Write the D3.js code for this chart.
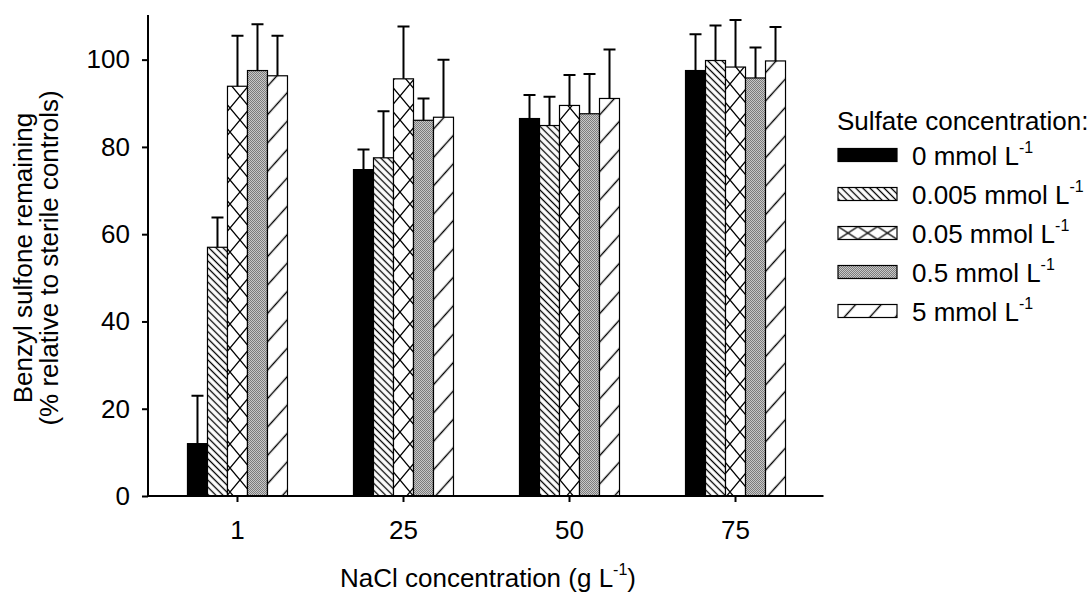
<!DOCTYPE html>
<html>
<head>
<meta charset="utf-8">
<script src="https://cdn.jsdelivr.net/npm/d3@7"></script>
<style>
  html, body { margin: 0; padding: 0; background: #fff; }
  svg { display: block; }
  text { font-family: "Liberation Sans", Arial, sans-serif; fill: #000; }
</style>
</head>
<body>
<svg id="chart" width="1091" height="600"></svg>
<script>
// NaCl concentrations (g L-1) on the x axis
const naclLevels = ["1", "25", "50", "75"];

// Sulfate treatments (legend order)
const sulfateLevels = ["0", "0.005", "0.05", "0.5", "5"];
const sulfateLabels = ["0 mmol L", "0.005 mmol L", "0.05 mmol L", "0.5 mmol L", "5 mmol L"];

// Benzyl sulfone remaining (% of sterile controls), one array per sulfate level
const mean0    = [12.0, 74.8, 86.5, 97.5];
const mean0005 = [57.0, 77.5, 84.9, 99.8];
const mean005  = [93.9, 95.6, 89.5, 98.3];
const mean05   = [97.5, 86.1, 87.6, 95.8];
const mean5    = [96.3, 86.8, 91.1, 99.7];

// Standard deviations (upper error bars)
const sd0    = [11.0, 4.6, 5.4, 8.3];
const sd0005 = [6.8, 10.7, 6.6, 8.0];
const sd005  = [11.6, 12.0, 7.0, 10.8];
const sd05   = [10.6, 5.0, 9.1, 7.0];
const sd5    = [9.2, 13.2, 11.2, 7.8];

const yTicks = [0, 20, 40, 60, 80, 100];

const means = [mean0, mean0005, mean005, mean05, mean5];
const sds = [sd0, sd0005, sd005, sd05, sd5];
const fills = ["#000", "url(#diagBack)", "url(#xhatch)", "url(#stipple)", "url(#diagFwd)"];
const legendFills = ["#000", "url(#diagBack)", "url(#xhatchLeg)", "url(#stipple)", "url(#diagFwd)"];

const rows = [];
naclLevels.forEach((n, i) => {
  sulfateLevels.forEach((s, j) => {
    rows.push({ nacl: n, sulfate: s, si: j, value: means[j][i], sd: sds[j][i] });
  });
});

const FONT = 26;
const SUP = 16;

const svg = d3.select("#chart");

// ---- fill patterns ----
const defs = svg.append("defs");

// back diagonal hatching
const pb = defs.append("pattern").attr("id", "diagBack")
  .attr("patternUnits", "userSpaceOnUse").attr("width", 5).attr("height", 5)
  .attr("patternTransform", "rotate(-45)");
pb.append("rect").attr("width", 5).attr("height", 5).attr("fill", "#fff");
pb.append("line").attr("x1", 2.5).attr("y1", 0).attr("x2", 2.5).attr("y2", 5)
  .attr("stroke", "#000").attr("stroke-width", 1.3);

// wide forward diagonal hatching
const pf = defs.append("pattern").attr("id", "diagFwd")
  .attr("patternUnits", "userSpaceOnUse").attr("width", 19).attr("height", 19)
  .attr("patternTransform", "rotate(42)");
pf.append("rect").attr("width", 19).attr("height", 19).attr("fill", "#fff");
pf.append("line").attr("x1", 9.5).attr("y1", 0).attr("x2", 9.5).attr("y2", 19)
  .attr("stroke", "#000").attr("stroke-width", 1.4);

// crosshatch for bars
const px = defs.append("pattern").attr("id", "xhatch")
  .attr("patternUnits", "userSpaceOnUse").attr("width", 20).attr("height", 24);
px.append("rect").attr("width", 20).attr("height", 24).attr("fill", "#fff");
px.append("path").attr("d", "M0,0L20,24M20,0L0,24")
  .attr("stroke", "#000").attr("stroke-width", 1.3).attr("fill", "none");

// crosshatch for legend swatches
const pxl = defs.append("pattern").attr("id", "xhatchLeg")
  .attr("patternUnits", "objectBoundingBox").attr("width", 1 / 3).attr("height", 1);
pxl.append("rect").attr("width", 20).attr("height", 13).attr("fill", "#fff");
pxl.append("path").attr("d", "M0,0L20,13M20,0L0,13")
  .attr("stroke", "#000").attr("stroke-width", 1.3).attr("fill", "none");

// fine grey stipple
const ps = defs.append("pattern").attr("id", "stipple")
  .attr("patternUnits", "userSpaceOnUse").attr("width", 2).attr("height", 2);
ps.append("rect").attr("width", 2).attr("height", 2).attr("fill", "#c8c8c8");
ps.append("rect").attr("width", 1).attr("height", 1).attr("fill", "#7c7c7c");
ps.append("rect").attr("x", 1).attr("y", 1).attr("width", 1).attr("height", 1).attr("fill", "#7c7c7c");

// ---- scales ----
const x0 = d3.scaleBand().domain(naclLevels).range([149.5, 823.5]).paddingInner(0).paddingOuter(0.03);
const x1 = d3.scaleBand().domain(sulfateLevels).range([0, 100]).padding(0);
const y = d3.scaleLinear().domain([0, 110]).range([496, 16]);

// ---- bars ----
const groupOffset = x0.bandwidth() / 2 - 50;
const bars = svg.append("g");
bars.selectAll("rect").data(rows).join("rect")
  .attr("x", d => x0(d.nacl) + groupOffset + x1(d.sulfate))
  .attr("y", d => y(d.value))
  .attr("width", x1.bandwidth())
  .attr("height", d => y(0) - y(d.value))
  .attr("fill", d => fills[d.si])
  .attr("stroke", "#000").attr("stroke-width", 1.2);

// ---- error bars (upper only) ----
const eb = svg.append("g").attr("stroke", "#000").attr("stroke-width", 2).attr("fill", "none");
const cx = d => x0(d.nacl) + groupOffset + x1(d.sulfate) + x1.bandwidth() / 2;
eb.selectAll("path").data(rows).join("path")
  .attr("d", d => `M${cx(d)},${y(d.value)}V${y(d.value + d.sd)}M${cx(d) - 6},${y(d.value + d.sd)}H${cx(d) + 6}`);

// ---- axes ----
const yAxis = svg.append("g").attr("transform", "translate(148,0)")
  .call(d3.axisLeft(y).tickValues(yTicks).tickSize(6).tickSizeOuter(0).tickPadding(12));
yAxis.select(".domain").attr("d", `M0,${y(0)}V15`);
const xAxis = svg.append("g").attr("transform", `translate(0,${y(0)})`)
  .call(d3.axisBottom(x0).tickSize(6).tickSizeOuter(0).tickPadding(19));
xAxis.select(".domain").attr("d", "M148,0H823.5");
[yAxis, xAxis].forEach(a => {
  a.selectAll(".domain, .tick line").attr("stroke", "#000").attr("stroke-width", 2);
  a.selectAll("text").attr("font-size", FONT).attr("font-family", "Liberation Sans, Arial, sans-serif").attr("fill", "#000");
});

// ---- axis titles ----
const xt = svg.append("text").attr("x", 488).attr("y", 587).attr("text-anchor", "middle").attr("font-size", FONT);
xt.append("tspan").text("NaCl concentration (g L");
xt.append("tspan").attr("dy", -12).attr("font-size", SUP).text("-1");
xt.append("tspan").attr("dy", 12).text(")");

svg.append("text").attr("transform", "translate(32,258) rotate(-90)").attr("text-anchor", "middle")
  .attr("font-size", FONT).text("Benzyl sulfone remaining");
svg.append("text").attr("transform", "translate(58,258) rotate(-90)").attr("text-anchor", "middle")
  .attr("font-size", FONT).text("(% relative to sterile controls)");

// ---- legend ----
const legend = svg.append("g").attr("transform", "translate(837,0)");
legend.append("text").attr("x", 0).attr("y", 130).attr("font-size", FONT).text("Sulfate concentration:");
const rowY = d3.scalePoint().domain(sulfateLevels).range([155, 311]);
const items = legend.selectAll("g.item").data(sulfateLevels).join("g").attr("class", "item")
  .attr("transform", d => `translate(0,${rowY(d)})`);
items.append("rect").attr("x", 1).attr("y", -6.5).attr("width", 59).attr("height", 13)
  .attr("fill", (d, i) => legendFills[i]).attr("stroke", "#000").attr("stroke-width", 1.2);
const lt = items.append("text").attr("x", 75).attr("y", 10).attr("font-size", FONT);
lt.append("tspan").text((d, i) => sulfateLabels[i]);
lt.append("tspan").attr("dy", -12).attr("font-size", SUP).text("-1");
</script>
</body>
</html>
